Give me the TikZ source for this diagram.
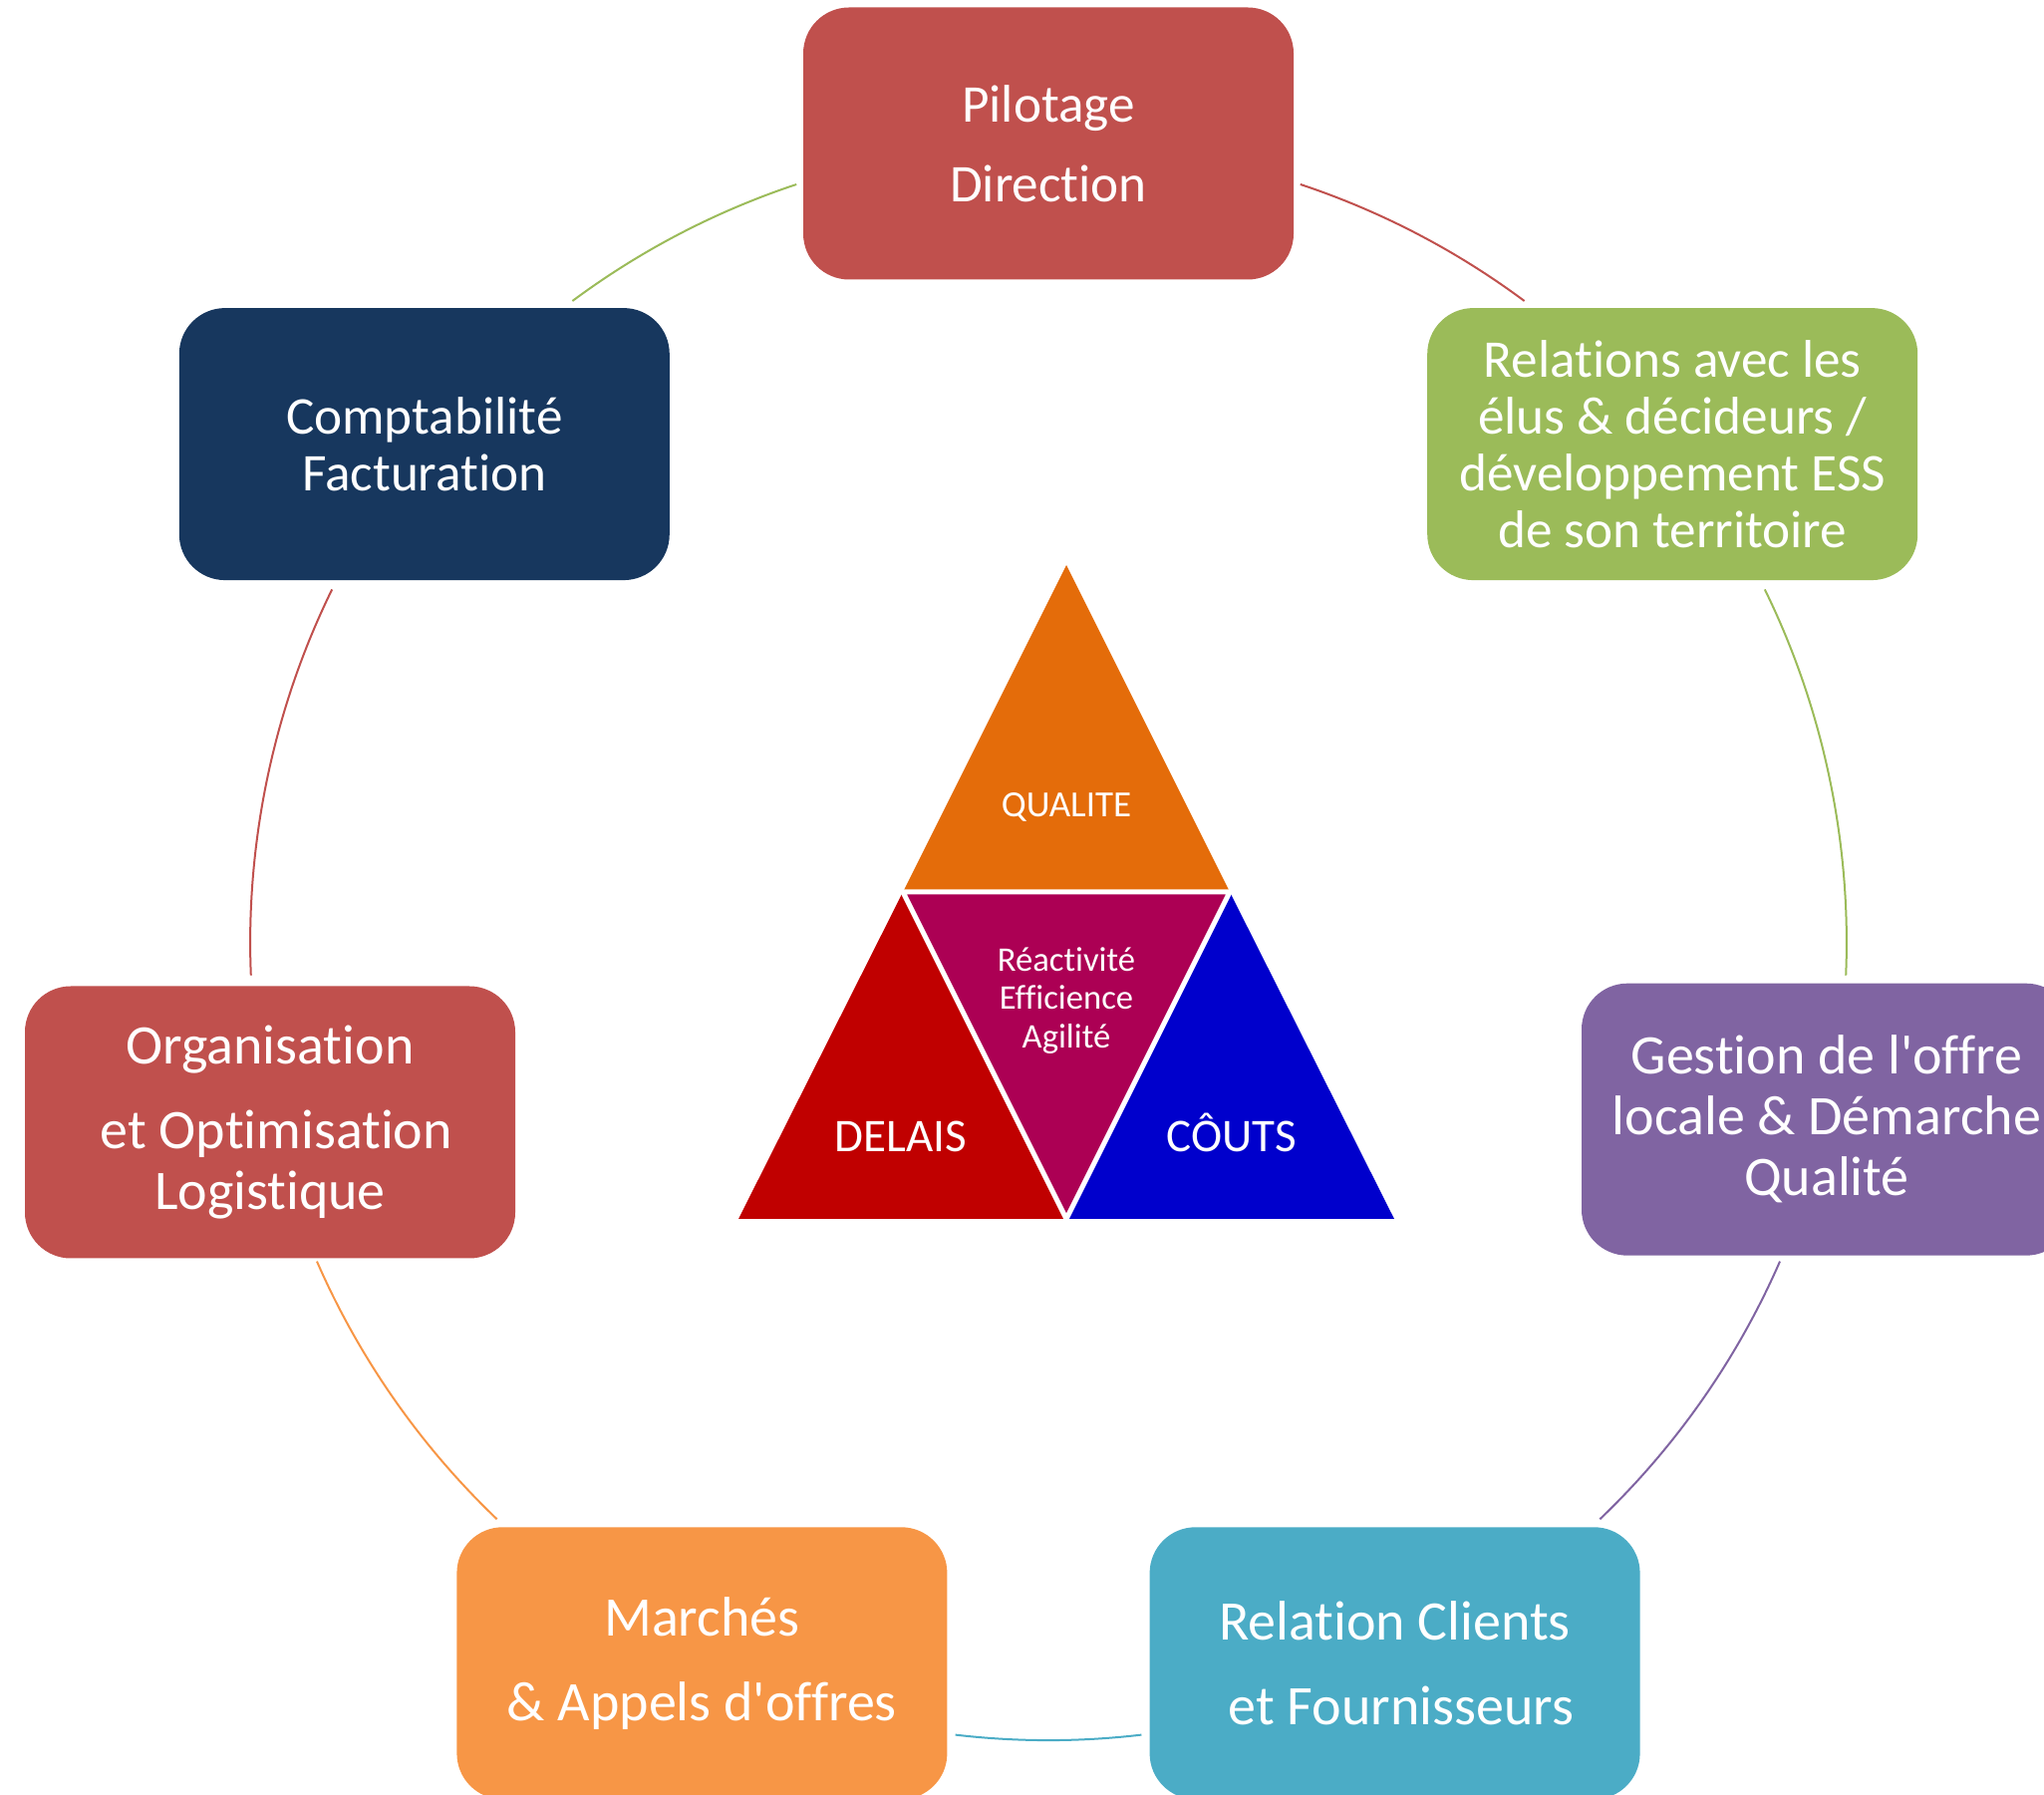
\documentclass[tikz,border=0pt]{standalone}
\usepackage{fontspec}
\setmainfont[Ligatures={NoCommon}]{Carlito}
\begin{document}
\begin{tikzpicture}[x=1pt,y=1pt,
  box/.style={rectangle,rounded corners=23pt,minimum width=246pt,minimum height=136.5pt,
    inner sep=0pt,outer sep=0pt,text=white,align=center},
  bigText/.style={font=\fontsize{28pt}{30.5pt}\selectfont},
  midText/.style={font=\fontsize{26.6pt}{28.6pt}\selectfont},
  link/.style={line width=1pt,looseness=0.86},
  core/.style={draw=white,line width=2.5pt,line join=miter},
  triText/.style={text=white,inner sep=0pt,outer sep=0pt,align=center}]
\definecolor{redColor}{RGB}{192,80,77}
\definecolor{greenColor}{RGB}{155,187,89}
\definecolor{purpleColor}{RGB}{128,100,162}
\definecolor{aquaColor}{RGB}{75,172,198}
\definecolor{orangeColor}{RGB}{247,150,70}
\definecolor{navyColor}{RGB}{23,55,94}
\definecolor{qualColor}{RGB}{228,108,10}
\definecolor{delaiColor}{RGB}{192,0,0}
\definecolor{coutColor}{RGB}{0,0,204}
\definecolor{coreColor}{RGB}{172,0,84}
\path[use as bounding box] (0,0) rectangle (1025.5,900);
\begin{scope}
\path[clip] (0,0) rectangle (1025.5,900);

% cycle of boxes
\node[box,midText,fill=redColor] (pilot) at (526.00,828.00) {Pilotage\\[11.5pt]Direction};

\node[box,midText,fill=greenColor] (relat) at (839.10,677.20) {Relations avec les\\élus \& décideurs /\\développement ESS\\de son territoire};

\node[box,bigText,fill=purpleColor] (gestion) at (916.50,338.40) {Gestion de l\textquotesingle offre\\locale \& Démarche\\Qualité};

\node[box,bigText,fill=aquaColor] (clients) at (699.80, 65.60) {Relation Clients\\[12pt]\hspace*{0.226em}et Fournisseurs};

\node[box,bigText,fill=orangeColor] (marches) at (352.20, 65.60) {Marchés\\[12pt]\& Appels d\textquotesingle offres};

\node[box,bigText,fill=redColor] (orga) at (135.50,337.00) {Organisation\\[12pt]\hspace*{0.226em}et Optimisation\\Logistique};

\node[box,midText,fill=navyColor] (compta) at (212.90,677.20) {Comptabilité\\Facturation};

% arc ends
\coordinate (a1) at (652.40,807.50);
\coordinate (b1) at (764.80,749.00);
\coordinate (a2) at (885.40,604.30);
\coordinate (b2) at (926.10,410.70);
\coordinate (a3) at (893.00,267.20);
\coordinate (b3) at (802.70,137.90);
\coordinate (a4) at (572.70, 29.70);
\coordinate (b4) at (479.30, 29.70);
\coordinate (a5) at (249.30,137.90);
\coordinate (b5) at (159.00,267.20);
\coordinate (a6) at (125.90,410.70);
\coordinate (b6) at (166.60,604.30);
\coordinate (a7) at (287.20,749.00);
\coordinate (b7) at (399.60,807.50);

\draw[link,draw=redColor] (a1) to[bend left=9.1] (b1);

\draw[link,draw=greenColor] (a2) to[bend left=14.3] (b2);

\draw[link,draw=purpleColor] (a3) to[bend left=11.35] (b3);

\draw[link,draw=aquaColor] (a4) to[bend left=6.7] (b4);

\draw[link,draw=orangeColor] (a5) to[bend left=11.35] (b5);

\draw[link,draw=redColor] (a6) to[bend left=14.3] (b6);

\draw[link,draw=greenColor] (a7) to[bend left=9.1] (b7);

% triangle in the middle
\coordinate (tA) at (535.00,616.50);
\coordinate (tL) at (453.00,452.50);
\coordinate (tR) at (617.00,452.50);
\coordinate (tBL) at (370.50,288.50);
\coordinate (tBM) at (535.00,288.50);
\coordinate (tBR) at (699.50,288.50);

\path[fill=qualColor] (tA) -- (tL) -- (tR) -- cycle;

\path[fill=delaiColor] (tL) -- (tBL) -- (tBM) -- cycle;

\path[fill=coutColor] (tR) -- (tBM) -- (tBR) -- cycle;

\path[core,fill=coreColor] (tL) -- (tR) -- (tBM) -- cycle;

\node[triText,anchor=base,font=\fontsize{18.5pt}{21pt}\selectfont] (qual) at (535.00,490.00) {QUALITE};

\node[triText,font=\fontsize{17.3pt}{19.3pt}\selectfont] (core) at (535.00,398.00) {Réactivité\\Efficience\\Agilité};

\node[triText,anchor=base,font=\fontsize{23.5pt}{26pt}\selectfont] (delai) at (452.00,322.00) {DELAIS};

\node[triText,anchor=base,font=\fontsize{23.5pt}{26pt}\selectfont] (cout) at (618.00,322.00) {CÔUTS};
\end{scope}
\end{tikzpicture}
\end{document}
